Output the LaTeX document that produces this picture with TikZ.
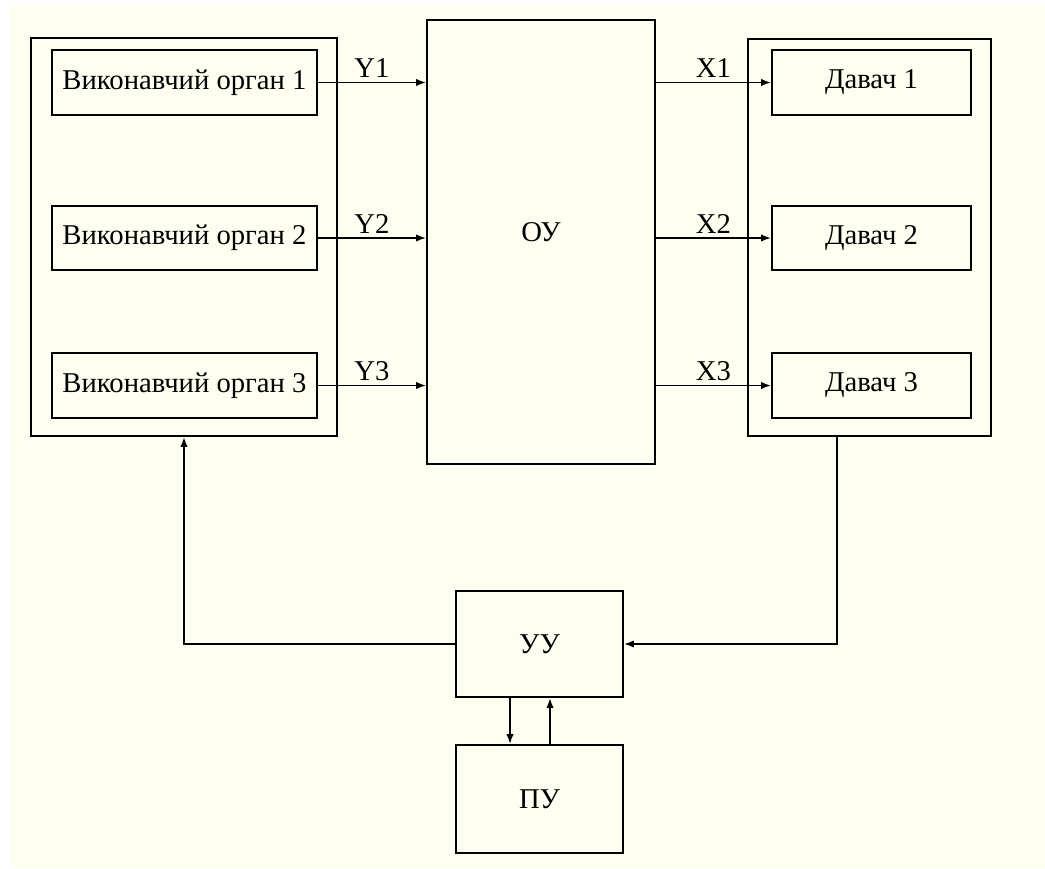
\documentclass[tikz,border=0pt]{standalone}
\usepackage{fontspec}
\setmainfont{Liberation Serif}
\usetikzlibrary{arrows.meta}
\definecolor{ivory}{RGB}{254,254,241}
\begin{document}
\begin{tikzpicture}[x=0.75pt, y=-0.75pt,
  every node/.style={font=\fontsize{21.5}{24}\selectfont},
  dims/.style 2 args={minimum width=#1*0.75pt, minimum height=#2*0.75pt},
  block/.style={rectangle, draw, line width=1.3pt, inner sep=0pt},
  sig/.style={line width=1.3pt, -{Latex[length=7.5pt,width=5.5pt]}},
  lab/.style={above, inner sep=3pt}]

  \useasboundingbox (0,0) rectangle (1045,868);
  \fill[white] (0,0) rectangle (1045,868);
  \fill[ivory] (10,6) rectangle (1045,868);

  \node[block, dims={306}{398}] (vo) at (184,237) {};
  \node[block, dims={265}{65}] (vo1) at (184.5,82.5) {Виконавчий орган 1};
  \node[block, dims={265}{64}] (vo2) at (184.5,238) {Виконавчий орган 2};
  \node[block, dims={265}{65}] (vo3) at (184.5,385.5) {Виконавчий орган 3};

  \node[block, dims={228}{444},
        label={[yshift=7.5pt]center:ОУ}] (ou) at (541,242) {};

  \node[block, dims={243}{397}] (dv) at (869.5,237.5) {};
  \node[block, dims={199}{65}] (d1) at (871.5,82.5) {Давач 1};
  \node[block, dims={199}{64}] (d2) at (871.5,238) {Давач 2};
  \node[block, dims={199}{65}] (d3) at (871.5,385.5) {Давач 3};

  \node[block, dims={167}{106}] (uu) at (539.5,644) {УУ};
  \node[block, dims={167}{108}] (pu) at (539.5,799) {ПУ};

  \coordinate (fb) at (837,0);
  \coordinate (dn) at (510,0);
  \coordinate (up) at (550,0);

  \draw[sig] (vo1.east) -- (vo1.east -| ou.west) node[lab, midway] {Y1};
  \draw[sig] (vo2.east) -- (vo2.east -| ou.west) node[lab, midway] {Y2};
  \draw[sig] (vo3.east) -- (vo3.east -| ou.west) node[lab, midway] {Y3};

  \draw[sig] (d1.west -| ou.east) -- (d1.west) node[lab, midway] {X1};
  \draw[sig] (d2.west -| ou.east) -- (d2.west) node[lab, midway] {X2};
  \draw[sig] (d3.west -| ou.east) -- (d3.west) node[lab, midway] {X3};

  \draw[sig] (dv.south -| fb) |- (uu.east);
  \draw[sig] (uu.west) -| (vo.south);
  \draw[sig] (uu.south -| dn) -- (pu.north -| dn);
  \draw[sig] (pu.north -| up) -- (uu.south -| up);
\end{tikzpicture}
\end{document}
